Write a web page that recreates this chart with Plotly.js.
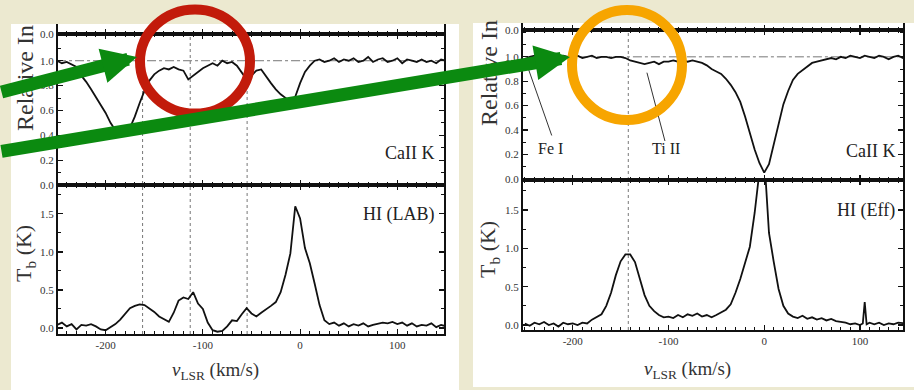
<!DOCTYPE html>
<html><head><meta charset="utf-8">
<script src="https://cdn.plot.ly/plotly-3.0.1.min.js"></script>
<style>html,body{margin:0;padding:0;background:#ECE9D0;}#chart{width:914px;height:390px;}</style>
</head><body><div id="chart"></div>
<script>
// ---------------- data ----------------
const velocity = [-250,-245,-240,-235,-230,-225,-220,-215,-210,-205,
 -200,-195,-190,-185,-180,-175,-170,-165,-160,-155,
 -150,-145,-140,-135,-130,-125,-120,-115,-110,-105,
 -100,-95,-90,-85,-80,-75,-70,-65,-60,-55,
 -50,-45,-40,-35,-30,-25,-20,-15,-10,-5,
 0,5,10,15,20,25,30,35,40,45,
 50,55,60,65,70,75,80,85,90,95,
 100,105,110,115,120,125,130,135,140,145,
 150];
// Left: Ca II K relative intensity (LAB sightline)
const caLab = [1.00,0.98,0.99,0.97,0.95,0.88,0.83,0.77,0.71,0.65,
 0.58,0.50,0.44,0.43,0.44,0.46,0.55,0.66,0.76,0.84,
 0.89,0.92,0.94,0.93,0.95,0.93,0.92,0.85,0.88,0.91,
 0.94,0.96,0.98,0.96,1.00,0.98,0.99,0.96,0.90,0.85,
 0.88,0.92,0.93,0.87,0.82,0.77,0.73,0.70,0.68,0.71,
 0.82,0.91,0.96,1.00,1.01,0.99,1.00,1.02,0.99,1.01,
 1.00,1.02,0.99,1.00,1.03,0.99,1.01,1.02,0.99,1.00,
 1.02,0.98,1.01,1.00,0.99,1.01,0.99,1.00,0.98,1.01,
 1.00];
// Left: HI brightness temperature (LAB)
const hiLab = [0.04,0.07,0.02,0.05,-0.02,0.04,0.03,0.05,0.02,-0.02,
 -0.03,0.01,0.05,0.11,0.19,0.26,0.29,0.31,0.30,0.26,
 0.21,0.15,0.11,0.08,0.20,0.36,0.40,0.38,0.47,0.32,
 0.25,0.07,-0.03,-0.05,-0.04,0.02,0.10,0.09,0.18,0.26,
 0.19,0.15,0.20,0.24,0.29,0.34,0.47,0.70,0.98,1.60,
 1.44,1.05,0.85,0.58,0.30,0.10,0.05,0.07,0.03,0.06,
 0.02,0.05,0.03,0.06,0.02,0.04,0.05,0.07,0.06,0.08,
 0.05,0.07,0.03,0.06,0.02,0.04,0.03,0.06,0.01,0.04,
 0.02];
// Right: Ca II K relative intensity (Effelsberg sightline)
const caEff = [0.98,1.00,1.01,0.99,1.00,1.01,1.00,0.99,1.01,1.00,
 1.00,1.01,0.99,1.00,1.01,0.99,1.00,1.00,0.99,1.00,
 1.00,0.99,0.97,0.96,0.95,0.94,0.95,0.96,0.94,0.96,
 0.96,0.97,0.96,0.97,0.96,0.97,0.96,0.95,0.93,0.90,
 0.88,0.86,0.82,0.77,0.71,0.63,0.51,0.37,0.24,0.13,
 0.05,0.12,0.28,0.46,0.61,0.72,0.81,0.86,0.89,0.92,
 0.95,0.96,0.97,0.98,0.99,0.98,1.00,0.99,1.01,1.00,
 0.99,1.01,1.00,0.99,1.01,1.00,0.98,1.00,1.01,0.99,
 1.00];
// Right: HI brightness temperature (Effelsberg)
const velocityEff = [-250,-245,-240,-235,-230,-225,-220,-215,-210,-205,
 -200,-195,-190,-185,-180,-175,-170,-165,-160,-155,
 -150,-145,-140,-135,-130,-125,-120,-115,-110,-105,
 -100,-95,-90,-85,-80,-75,-70,-65,-60,-55,
 -50,-45,-40,-35,-30,-25,-20,-15,-10,-5,
 0,5,10,15,20,25,30,35,40,45,
 50,55,60,65,70,75,80,85,90,95,
 100,103,105,107,110,115,120,125,130,135,140,145,
 150];
const hiEff = [0.02,-0.01,0.03,0.01,0.04,0.00,0.02,-0.02,0.03,0.01,
 0.02,0.00,0.03,0.02,0.07,0.10,0.14,0.25,0.42,0.65,
 0.83,0.92,0.92,0.82,0.59,0.39,0.25,0.18,0.13,0.10,
 0.11,0.09,0.13,0.10,0.14,0.12,0.15,0.11,0.13,0.10,
 0.13,0.16,0.20,0.27,0.42,0.60,0.80,1.02,1.46,2.00,
 2.20,1.20,0.82,0.47,0.25,0.15,0.11,0.09,0.12,0.08,
 0.10,0.07,0.09,0.06,0.08,0.05,0.04,0.03,0.01,0.02,
 0.00,0.02,0.30,0.01,0.03,0.01,0.03,0.00,0.02,0.01,0.03,0.02,
 0.02];
const continuum = 1.0;
const labComponents = [-162, -113, -54.5];
const effComponents = [-142];
const xTickVals = [-200, -100, 0, 100];
const xTickText = ['-200', '-100', '0', '100'];
const relTickVals = [0, 0.2, 0.4, 0.6, 0.8, 1.0];
const relTickText = ['0.0', '0.2', '0.4', '0.6', '0.8', '1.0'];
const tbTickVals = [0, 0.5, 1.0, 1.5];
const tbTickText = ['0.0', '0.5', '1.0', '1.5'];
const capTickText = ['0.0'];
const lineIds = ['Fe I', 'Ti II'];
const lineIdText = [[-223, 0.25], [-103, 0.25]];
const lineIdLeader = [[-249, 0.96, -222, 0.355], [-122.5, 0.87, -103.7, 0.31]];
const panelNames = ['CaII K', 'HI (LAB)', 'CaII K', 'HI (Eff)'];
const yTitleRel = 'Relative In';
const yTitleTb = 'T<sub>b</sub> (K)';
const xTitle = '<i>v</i><sub>LSR</sub> (km/s)';

// ---------------- layout helpers ----------------
const SERIF = 'Liberation Serif, Times New Roman, serif';
const INK = '#111';
const W = 914, H = 390;
const fx = p => p / W;
const fy = p => 1 - p / H;
const L = {x0: 58, x1: 444, yCap: 24, yTop: 34, yMid: 185, yBot: 334, xr: [-249, 148]};
const R = {x0: 523, x1: 903, yCap: 23, yTop: 30, yMid: 180, yBot: 330, xr: [-252, 145]};

function axis(extra) {
  return Object.assign({
    showline: true, linecolor: INK, linewidth: 2, mirror: 'ticks',
    ticks: 'inside', ticklen: 5, tickwidth: 1.2, tickcolor: INK,
    showgrid: false, zeroline: false, fixedrange: true,
    tickfont: {family: SERIF, size: 11, color: '#333'}
  }, extra);
}
function minor(d) {
  return {ticks: 'inside', ticklen: 3, tickwidth: 1, tickcolor: INK, tickmode: 'linear', tick0: 0, dtick: d};
}
function xAxes(P, a) {
  const dom = [fx(P.x0), fx(P.x1)];
  const base = {domain: dom, range: P.xr, tickmode: 'array', tickvals: xTickVals, ticktext: xTickText, minor: minor(10)};
  return [
    axis(Object.assign({}, base, {anchor: 'y' + a[0]})),
    axis(Object.assign({}, base, {anchor: 'y' + a[1], showticklabels: false})),
    axis(Object.assign({}, base, {anchor: 'y' + a[2], showticklabels: false, mirror: false}))
  ];
}

const layout = {
  width: W, height: H,
  margin: {l: 0, r: 0, t: 0, b: 0},
  paper_bgcolor: '#ECE9D0', plot_bgcolor: 'rgba(0,0,0,0)',
  showlegend: false,
  shapes: [], annotations: []
};
const lx = xAxes(L, ['', 2, 3]);
const rx = xAxes(R, [4, 5, 6]);
layout.xaxis = lx[0]; layout.xaxis2 = lx[1]; layout.xaxis3 = lx[2];
layout.xaxis4 = rx[0]; layout.xaxis5 = rx[1]; layout.xaxis6 = rx[2];

function yAxes(P, xs, ranges) {
  return [
    axis({domain: [fy(P.yBot), fy(P.yMid)], range: ranges[0], anchor: 'x' + xs[0], tickmode: 'array', tickvals: tbTickVals, ticktext: tbTickText, minor: minor(0.25)}),
    axis({domain: [fy(P.yMid), fy(P.yTop)], range: ranges[1], anchor: 'x' + xs[1], tickmode: 'array', tickvals: relTickVals, ticktext: relTickText, minor: minor(0.1)}),
    axis({domain: [fy(P.yTop), fy(P.yCap)], range: ranges[2], anchor: 'x' + xs[2], tickmode: 'array', tickvals: [0], ticktext: capTickText, ticks: ''})
  ];
}
const ly = yAxes(L, ['', 2, 3], [[-0.08, 1.88], [0, 1.215], [0, 0.08]]);
const ry = yAxes(R, [4, 5, 6], [[-0.065, 1.89], [-0.01, 1.22], [0, 0.06]]);
layout.yaxis = ly[0]; layout.yaxis2 = ly[1]; layout.yaxis3 = ly[2];
layout.yaxis4 = ry[0]; layout.yaxis5 = ry[1]; layout.yaxis6 = ry[2];

// white panels
[[11, 24, 459, 390], [473, 23, 914, 387]].forEach(b => layout.shapes.push({
  type: 'rect', xref: 'paper', yref: 'paper', layer: 'below',
  x0: fx(b[0]), x1: fx(b[2]), y0: fy(b[3]), y1: fy(b[1]),
  fillcolor: '#fff', line: {width: 0}
}));
// component markers (dotted verticals)
labComponents.forEach(v => layout.shapes.push({
  type: 'line', xref: 'x', yref: 'paper', x0: v, x1: v, y0: fy(L.yBot), y1: fy(L.yTop),
  line: {color: '#777', width: 1, dash: 'dot'}, layer: 'below'
}));
effComponents.forEach(v => layout.shapes.push({
  type: 'line', xref: 'x4', yref: 'paper', x0: v, x1: v, y0: fy(R.yBot), y1: fy(R.yTop),
  line: {color: '#777', width: 1, dash: 'dot'}, layer: 'below'
}));
// line-id leaders
lineIdLeader.forEach(s => layout.shapes.push({
  type: 'line', xref: 'x5', yref: 'y5', x0: s[0], y0: s[1], x1: s[2], y1: s[3],
  line: {color: '#333', width: 1}
}));
// highlight circles
layout.shapes.push({type: 'circle', xref: 'paper', yref: 'paper', layer: 'above',
  x0: fx(140), x1: fx(250), y0: fy(113.5), y1: fy(9.5), line: {color: '#C21B0B', width: 10}});
layout.shapes.push({type: 'circle', xref: 'paper', yref: 'paper', layer: 'above',
  x0: fx(572), x1: fx(682), y0: fy(120), y1: fy(10), line: {color: '#F7A500', width: 10}});

function txt(text, xp, yp, o) {
  return Object.assign({xref: 'paper', yref: 'paper', x: fx(xp), y: fy(yp), text: text, showarrow: false,
    font: {family: SERIF, size: 18, color: '#222'}, xanchor: 'center', yanchor: 'middle'}, o || {});
}
layout.annotations.push(
  txt(panelNames[0], 436, 153, {xanchor: 'right'}),
  txt(panelNames[1], 436, 214, {xanchor: 'right'}),
  txt(panelNames[2], 897, 151, {xanchor: 'right'}),
  txt(panelNames[3], 897, 210, {xanchor: 'right'}),
  txt(yTitleRel, 25, 133, {textangle: -90, yanchor: 'bottom', font: {family: SERIF, size: 24, color: '#333'}}),
  txt(yTitleRel, 489, 128, {textangle: -90, yanchor: 'bottom', font: {family: SERIF, size: 24, color: '#333'}}),
  txt(yTitleTb, 25, 254, {textangle: -90, font: {family: SERIF, size: 22, color: '#333'}}),
  txt(yTitleTb, 489, 250, {textangle: -90, font: {family: SERIF, size: 22, color: '#333'}}),
  txt(xTitle, 215, 371, {font: {family: SERIF, size: 19, color: '#333'}}),
  txt(xTitle, 687, 370, {font: {family: SERIF, size: 19, color: '#333'}})
);
lineIds.forEach((t, i) => layout.annotations.push({
  xref: 'x5', yref: 'y5', x: lineIdText[i][0], y: lineIdText[i][1], text: t, showarrow: false,
  font: {family: SERIF, size: 16, color: '#222'}
}));
// green arrows (drawn last, on top)
const GREEN = '#0B8A10';
[[137, 57, -10, 92.4], [570, 57, -10, 151.6]].forEach(a => layout.annotations.push({
  xref: 'paper', yref: 'paper', x: fx(a[0]), y: fy(a[1]), axref: 'pixel', ayref: 'pixel',
  ax: a[2] - a[0], ay: a[3] - a[1], text: '', showarrow: true, arrowhead: 2,
  arrowsize: 0.54, arrowwidth: 13, arrowcolor: GREEN
}));

const curve = {mode: 'lines', line: {color: INK, width: 1.8}, hoverinfo: 'skip'};
const cont = {mode: 'lines', line: {color: '#777', width: 1, dash: 'dashdot'}, hoverinfo: 'skip'};
const traces = [
  Object.assign({}, curve, {x: velocity, y: hiLab, xaxis: 'x', yaxis: 'y'}),
  Object.assign({}, cont, {x: [velocity[0], velocity[velocity.length - 1]], y: [continuum, continuum], xaxis: 'x2', yaxis: 'y2'}),
  Object.assign({}, curve, {x: velocity, y: caLab, xaxis: 'x2', yaxis: 'y2'}),
  {x: [], y: [], xaxis: 'x3', yaxis: 'y3', mode: 'lines'},
  Object.assign({}, curve, {x: velocityEff, y: hiEff, xaxis: 'x4', yaxis: 'y4'}),
  Object.assign({}, cont, {x: [velocity[0], velocity[velocity.length - 1]], y: [continuum, continuum], xaxis: 'x5', yaxis: 'y5'}),
  Object.assign({}, curve, {x: velocity, y: caEff, xaxis: 'x5', yaxis: 'y5'}),
  {x: [], y: [], xaxis: 'x6', yaxis: 'y6', mode: 'lines'}
];
Plotly.newPlot('chart', traces, layout, {displayModeBar: false, staticPlot: true});
</script></body></html>
